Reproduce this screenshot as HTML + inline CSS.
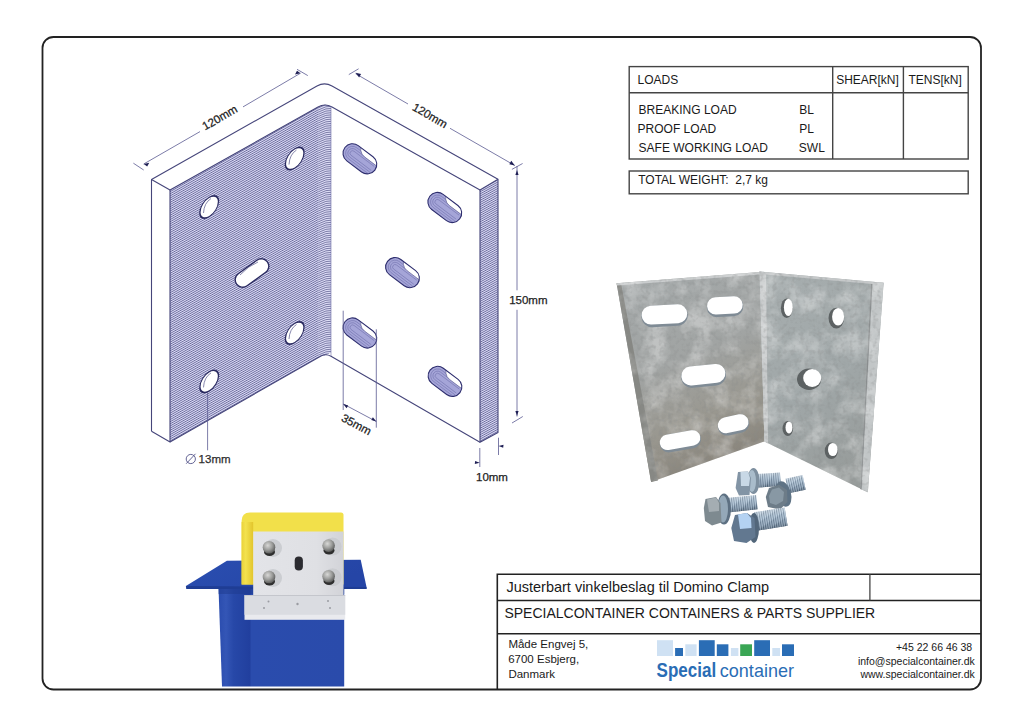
<!DOCTYPE html>
<html><head><meta charset="utf-8"><title>Justerbart vinkelbeslag</title>
<style>
html,body{margin:0;padding:0;background:#fff;width:1024px;height:724px;overflow:hidden;}
svg{display:block;}
text{font-family:"Liberation Sans",sans-serif;}
</style></head>
<body>
<svg width="1024" height="724" viewBox="0 0 1024 724">
<rect width="1024" height="724" fill="#fff"/>

<!-- FRAME -->
<rect x="42.5" y="37" width="938.5" height="652.5" rx="11" ry="11" fill="none" stroke="#222" stroke-width="1.8"/>

<!-- LOADS TABLE -->
<g stroke="#444" stroke-width="1.4" fill="none">
  <rect x="629.2" y="66.6" width="339" height="92.4"/>
  <line x1="629.2" y1="92.8" x2="968.2" y2="92.8"/>
  <line x1="832.7" y1="66.6" x2="832.7" y2="159"/>
  <line x1="903.4" y1="66.6" x2="903.4" y2="159"/>
  <rect x="629.2" y="171" width="339" height="22.8"/>
</g>
<g font-size="12" fill="#1a1a1a">
  <text x="637.6" y="83.8">LOADS</text>
  <text x="836.2" y="84">SHEAR[kN]</text>
  <text x="908.5" y="84">TENS[kN]</text>
  <text x="638.6" y="113.9">BREAKING LOAD</text>
  <text x="637.6" y="132.6">PROOF LOAD</text>
  <text x="638.6" y="152.4">SAFE WORKING LOAD</text>
  <text x="799.3" y="114">BL</text>
  <text x="799.3" y="132.7">PL</text>
  <text x="798.8" y="152.3">SWL</text>
  <text x="638.2" y="184.3" xml:space="preserve">TOTAL WEIGHT:  2,7 kg</text>
</g>

<!-- TITLE BLOCK -->
<g stroke="#222" stroke-width="1.6" fill="none">
  <path d="M497.3 689.5 V574.2 H981"/>
  <line x1="497.3" y1="600.5" x2="981" y2="600.5"/>
  <line x1="497.3" y1="633.8" x2="981" y2="633.8"/>
  <line x1="869.9" y1="574.2" x2="869.9" y2="600.5" stroke="#444" stroke-width="1.3"/>
</g>
<g fill="#1a1a1a">
  <text x="506.4" y="591.8" font-size="14.5">Justerbart vinkelbeslag til Domino Clamp</text>
  <text x="504.4" y="617.7" font-size="14">SPECIALCONTAINER CONTAINERS &amp; PARTS SUPPLIER</text>
  <g font-size="11.5">
    <text x="508.4" y="647.5">Måde Engvej 5,</text>
    <text x="508.2" y="662.8">6700 Esbjerg,</text>
    <text x="508.4" y="678.4">Danmark</text>
  </g>
  <g font-size="10.5" text-anchor="end">
    <text x="972.2" y="650.5">+45 22 66 46 38</text>
    <text x="974.8" y="665">info@specialcontainer.dk</text>
    <text x="974.8" y="678.3">www.specialcontainer.dk</text>
  </g>
</g>
<!-- LOGO -->
<g>
  <rect x="657" y="640.2" width="16" height="15.8" fill="#cfe1f3"/>
  <rect x="675.1" y="648" width="7.9" height="8" fill="#2a6db5"/>
  <rect x="685.3" y="644.3" width="11.3" height="11.7" fill="#cfe1f3"/>
  <rect x="698.9" y="640.2" width="15.8" height="15.8" fill="#2a6db5"/>
  <rect x="716.8" y="644.3" width="11.6" height="11.7" fill="#2a6db5"/>
  <rect x="730.9" y="648" width="7.5" height="8" fill="#cfe1f3"/>
  <rect x="740.2" y="644.3" width="11.8" height="11.7" fill="#3aa655"/>
  <rect x="754.2" y="640.2" width="15.8" height="15.8" fill="#2a6db5"/>
  <rect x="772.3" y="648" width="7.7" height="8" fill="#cfe1f3"/>
  <rect x="782" y="644.3" width="12" height="11.7" fill="#2a6db5"/>
  <text x="656.6" y="676.6" font-size="20" font-weight="bold" fill="#2a6db5" textLength="59.6" lengthAdjust="spacingAndGlyphs">Special</text>
  <text x="719.8" y="676.6" font-size="19" fill="#2a6db5" textLength="74.2" lengthAdjust="spacingAndGlyphs">container</text>
</g>

<!-- TECH DRAWING -->
<g id="drawing">
  <!-- top surface white -->
  <path d="M151.5 179.5 L317 86 Q324.5 81.8 332 86 L498 179.3 L480 190 L332 107 Q325 103 318 107 L170 190 Z" fill="#fff"/>
  <!-- left hatched face -->
  
  <clipPath id="faceL"><path d="M170 190 L318 107 Q325 103 331 106.4 L331 352 Q327 355.5 321 356 L170 442 Z"/></clipPath>
  <clipPath id="faceS"><path d="M480 190 L498 179.3 L498 432.4 L480 442.3 Z"/></clipPath>
  <linearGradient id="hgL" gradientUnits="userSpaceOnUse" x1="0" y1="0" x2="0.9225" y2="1.6270" spreadMethod="repeat">
    <stop offset="0" stop-color="#6a6a98"/><stop offset="0.22" stop-color="#a4a4cc"/><stop offset="0.5" stop-color="#dedef6"/><stop offset="0.78" stop-color="#a4a4cc"/><stop offset="1" stop-color="#6a6a98"/>
  </linearGradient>
  <linearGradient id="hgS" gradientUnits="userSpaceOnUse" x1="0" y1="0" x2="0.9079" y2="1.6507" spreadMethod="repeat">
    <stop offset="0" stop-color="#6a6a98"/><stop offset="0.22" stop-color="#a4a4cc"/><stop offset="0.5" stop-color="#dedef6"/><stop offset="0.78" stop-color="#a4a4cc"/><stop offset="1" stop-color="#6a6a98"/>
  </linearGradient>
  <clipPath id="bendClip"><rect x="318.5" y="90" width="14" height="280"/></clipPath>
  <path d="M170 190 L318 107 Q325 103 331 106.4 L331 352 Q327 355.5 321 356 L170 442 Z" fill="url(#hgL)"/>
  <path d="M480 190 L498 179.3 L498 432.4 L480 442.3 Z" fill="url(#hgS)"/>
  <g clip-path="url(#faceL)"><g clip-path="url(#bendClip)"><rect x="318" y="95" width="15" height="270" fill="#dcdcf5"/><path d="M314.0 106.20L320.0 102.80Q326.0 99.40 331.5 99.80M314.0 108.35L320.0 104.95Q326.0 101.55 331.5 101.95M314.0 110.50L320.0 107.10Q326.0 103.70 331.5 104.10M314.0 112.65L320.0 109.25Q326.0 105.85 331.5 106.25M314.0 114.80L320.0 111.40Q326.0 108.00 331.5 108.40M314.0 116.95L320.0 113.55Q326.0 110.15 331.5 110.55M314.0 119.10L320.0 115.70Q326.0 112.30 331.5 112.70M314.0 121.25L320.0 117.85Q326.0 114.45 331.5 114.85M314.0 123.40L320.0 120.00Q326.0 116.60 331.5 117.00M314.0 125.55L320.0 122.15Q326.0 118.75 331.5 119.15M314.0 127.70L320.0 124.30Q326.0 120.90 331.5 121.30M314.0 129.85L320.0 126.45Q326.0 123.05 331.5 123.45M314.0 132.00L320.0 128.60Q326.0 125.20 331.5 125.60M314.0 134.15L320.0 130.75Q326.0 127.35 331.5 127.75M314.0 136.30L320.0 132.90Q326.0 129.50 331.5 129.90M314.0 138.45L320.0 135.05Q326.0 131.65 331.5 132.05M314.0 140.60L320.0 137.20Q326.0 133.80 331.5 134.20M314.0 142.75L320.0 139.35Q326.0 135.95 331.5 136.35M314.0 144.90L320.0 141.50Q326.0 138.10 331.5 138.50M314.0 147.05L320.0 143.65Q326.0 140.25 331.5 140.65M314.0 149.20L320.0 145.80Q326.0 142.40 331.5 142.80M314.0 151.35L320.0 147.95Q326.0 144.55 331.5 144.95M314.0 153.50L320.0 150.10Q326.0 146.70 331.5 147.10M314.0 155.65L320.0 152.25Q326.0 148.85 331.5 149.25M314.0 157.80L320.0 154.40Q326.0 151.00 331.5 151.40M314.0 159.95L320.0 156.55Q326.0 153.15 331.5 153.55M314.0 162.10L320.0 158.70Q326.0 155.30 331.5 155.70M314.0 164.25L320.0 160.85Q326.0 157.45 331.5 157.85M314.0 166.40L320.0 163.00Q326.0 159.60 331.5 160.00M314.0 168.55L320.0 165.15Q326.0 161.75 331.5 162.15M314.0 170.70L320.0 167.30Q326.0 163.90 331.5 164.30M314.0 172.85L320.0 169.45Q326.0 166.05 331.5 166.45M314.0 175.00L320.0 171.60Q326.0 168.20 331.5 168.60M314.0 177.15L320.0 173.75Q326.0 170.35 331.5 170.75M314.0 179.30L320.0 175.90Q326.0 172.50 331.5 172.90M314.0 181.45L320.0 178.05Q326.0 174.65 331.5 175.05M314.0 183.60L320.0 180.20Q326.0 176.80 331.5 177.20M314.0 185.75L320.0 182.35Q326.0 178.95 331.5 179.35M314.0 187.90L320.0 184.50Q326.0 181.10 331.5 181.50M314.0 190.05L320.0 186.65Q326.0 183.25 331.5 183.65M314.0 192.20L320.0 188.80Q326.0 185.40 331.5 185.80M314.0 194.35L320.0 190.95Q326.0 187.55 331.5 187.95M314.0 196.50L320.0 193.10Q326.0 189.70 331.5 190.10M314.0 198.65L320.0 195.25Q326.0 191.85 331.5 192.25M314.0 200.80L320.0 197.40Q326.0 194.00 331.5 194.40M314.0 202.95L320.0 199.55Q326.0 196.15 331.5 196.55M314.0 205.10L320.0 201.70Q326.0 198.30 331.5 198.70M314.0 207.25L320.0 203.85Q326.0 200.45 331.5 200.85M314.0 209.40L320.0 206.00Q326.0 202.60 331.5 203.00M314.0 211.55L320.0 208.15Q326.0 204.75 331.5 205.15M314.0 213.70L320.0 210.30Q326.0 206.90 331.5 207.30M314.0 215.85L320.0 212.45Q326.0 209.05 331.5 209.45M314.0 218.00L320.0 214.60Q326.0 211.20 331.5 211.60M314.0 220.15L320.0 216.75Q326.0 213.35 331.5 213.75M314.0 222.30L320.0 218.90Q326.0 215.50 331.5 215.90M314.0 224.45L320.0 221.05Q326.0 217.65 331.5 218.05M314.0 226.60L320.0 223.20Q326.0 219.80 331.5 220.20M314.0 228.75L320.0 225.35Q326.0 221.95 331.5 222.35M314.0 230.90L320.0 227.50Q326.0 224.10 331.5 224.50M314.0 233.05L320.0 229.65Q326.0 226.25 331.5 226.65M314.0 235.20L320.0 231.80Q326.0 228.40 331.5 228.80M314.0 237.35L320.0 233.95Q326.0 230.55 331.5 230.95M314.0 239.50L320.0 236.10Q326.0 232.70 331.5 233.10M314.0 241.65L320.0 238.25Q326.0 234.85 331.5 235.25M314.0 243.80L320.0 240.40Q326.0 237.00 331.5 237.40M314.0 245.95L320.0 242.55Q326.0 239.15 331.5 239.55M314.0 248.10L320.0 244.70Q326.0 241.30 331.5 241.70M314.0 250.25L320.0 246.85Q326.0 243.45 331.5 243.85M314.0 252.40L320.0 249.00Q326.0 245.60 331.5 246.00M314.0 254.55L320.0 251.15Q326.0 247.75 331.5 248.15M314.0 256.70L320.0 253.30Q326.0 249.90 331.5 250.30M314.0 258.85L320.0 255.45Q326.0 252.05 331.5 252.45M314.0 261.00L320.0 257.60Q326.0 254.20 331.5 254.60M314.0 263.15L320.0 259.75Q326.0 256.35 331.5 256.75M314.0 265.30L320.0 261.90Q326.0 258.50 331.5 258.90M314.0 267.45L320.0 264.05Q326.0 260.65 331.5 261.05M314.0 269.60L320.0 266.20Q326.0 262.80 331.5 263.20M314.0 271.75L320.0 268.35Q326.0 264.95 331.5 265.35M314.0 273.90L320.0 270.50Q326.0 267.10 331.5 267.50M314.0 276.05L320.0 272.65Q326.0 269.25 331.5 269.65M314.0 278.20L320.0 274.80Q326.0 271.40 331.5 271.80M314.0 280.35L320.0 276.95Q326.0 273.55 331.5 273.95M314.0 282.50L320.0 279.10Q326.0 275.70 331.5 276.10M314.0 284.65L320.0 281.25Q326.0 277.85 331.5 278.25M314.0 286.80L320.0 283.40Q326.0 280.00 331.5 280.40M314.0 288.95L320.0 285.55Q326.0 282.15 331.5 282.55M314.0 291.10L320.0 287.70Q326.0 284.30 331.5 284.70M314.0 293.25L320.0 289.85Q326.0 286.45 331.5 286.85M314.0 295.40L320.0 292.00Q326.0 288.60 331.5 289.00M314.0 297.55L320.0 294.15Q326.0 290.75 331.5 291.15M314.0 299.70L320.0 296.30Q326.0 292.90 331.5 293.30M314.0 301.85L320.0 298.45Q326.0 295.05 331.5 295.45M314.0 304.00L320.0 300.60Q326.0 297.20 331.5 297.60M314.0 306.15L320.0 302.75Q326.0 299.35 331.5 299.75M314.0 308.30L320.0 304.90Q326.0 301.50 331.5 301.90M314.0 310.45L320.0 307.05Q326.0 303.65 331.5 304.05M314.0 312.60L320.0 309.20Q326.0 305.80 331.5 306.20M314.0 314.75L320.0 311.35Q326.0 307.95 331.5 308.35M314.0 316.90L320.0 313.50Q326.0 310.10 331.5 310.50M314.0 319.05L320.0 315.65Q326.0 312.25 331.5 312.65M314.0 321.20L320.0 317.80Q326.0 314.40 331.5 314.80M314.0 323.35L320.0 319.95Q326.0 316.55 331.5 316.95M314.0 325.50L320.0 322.10Q326.0 318.70 331.5 319.10M314.0 327.65L320.0 324.25Q326.0 320.85 331.5 321.25M314.0 329.80L320.0 326.40Q326.0 323.00 331.5 323.40M314.0 331.95L320.0 328.55Q326.0 325.15 331.5 325.55M314.0 334.10L320.0 330.70Q326.0 327.30 331.5 327.70M314.0 336.25L320.0 332.85Q326.0 329.45 331.5 329.85M314.0 338.40L320.0 335.00Q326.0 331.60 331.5 332.00M314.0 340.55L320.0 337.15Q326.0 333.75 331.5 334.15M314.0 342.70L320.0 339.30Q326.0 335.90 331.5 336.30M314.0 344.85L320.0 341.45Q326.0 338.05 331.5 338.45M314.0 347.00L320.0 343.60Q326.0 340.20 331.5 340.60M314.0 349.15L320.0 345.75Q326.0 342.35 331.5 342.75M314.0 351.30L320.0 347.90Q326.0 344.50 331.5 344.90M314.0 353.45L320.0 350.05Q326.0 346.65 331.5 347.05M314.0 355.60L320.0 352.20Q326.0 348.80 331.5 349.20M314.0 357.75L320.0 354.35Q326.0 350.95 331.5 351.35M314.0 359.90L320.0 356.50Q326.0 353.10 331.5 353.50M314.0 362.05L320.0 358.65Q326.0 355.25 331.5 355.65M314.0 364.20L320.0 360.80Q326.0 357.40 331.5 357.80M314.0 366.35L320.0 362.95Q326.0 359.55 331.5 359.95" fill="none" stroke="#6a6a98" stroke-width="0.85"/></g></g>
  <!-- outlines -->
  <g fill="none" stroke="#45457a" stroke-width="1.1" stroke-linejoin="round">
    <path d="M151.5 431.3 L151.5 179.5 L317 86 Q324.5 81.8 332 86 L498 179.3 L498 432.4 L480 442.3 L480 190"/>
    <path d="M151.5 179.5 L170 190 L318 107 Q325 103 332 107 L480 190 L498 179.3"/>
    <path d="M151.5 431.3 L170 442 L170 190"/>
    <path d="M170 442 L321 356 Q326 353.5 331 356.3 L480 442.3"/>
    <path d="M331 106.4 L331 356" stroke="#7070a8" stroke-width="0.6"/>
  </g>

  <!-- holes on left face (white) -->
  <g fill="#fff" stroke="#2a2a60" stroke-width="1.35">
    <ellipse cx="0" cy="0" rx="9.3" ry="9.6" transform="matrix(1,-0.6,0,1,209.2,207)"/>
    <ellipse cx="0" cy="0" rx="9.3" ry="9.6" transform="matrix(1,-0.6,0,1,294.7,158.5)"/>
    <rect x="-19" y="-7.5" width="38" height="15" rx="7.5" ry="7.5" transform="translate(252,273) rotate(-36)"/>
    <ellipse cx="0" cy="0" rx="9.3" ry="9.6" transform="matrix(1,-0.6,0,1,294.7,333)"/>
    <ellipse cx="0" cy="0" rx="9.3" ry="9.6" transform="matrix(1,-0.6,0,1,209.2,381.4)"/>
  </g>
  <g fill="none" stroke="#55558a" stroke-width="0.7">
    <path d="M203.5 213 Q204 203 211 198.5"/>
    <path d="M289 164.5 Q289.5 154.5 296.5 150"/>
    <path d="M289 339 Q289.5 329 296.5 324.5"/>
    <path d="M203.5 387.4 Q204 377.4 211 372.9"/>
    <path d="M240 275 Q248 266 258 262"/>
  </g>
  <!-- slots on white face (hatched inside) -->
  <defs>
    <clipPath id="capR"><rect x="-18.75" y="-9.5" width="37.5" height="19" rx="9.5" ry="9.5"/></clipPath>
  </defs>
  <g transform="translate(359.9,158.8) rotate(37)">
    <rect x="-18.75" y="-9.5" width="37.5" height="19" rx="9.5" ry="9.5" fill="#a5a5d8"/>
    <path d="M16 6.9 L-9.25 6.9 A6.9 6.9 0 0 1 -9.25 -6.9 L16 -6.9 M16 4.7 L-9.25 4.7 A4.7 4.7 0 0 1 -9.25 -4.7 L16 -4.7 M16 2.5 L-9.25 2.5 A2.5 2.5 0 0 1 -9.25 -2.5 L16 -2.5" fill="none" stroke="#7474b0" stroke-width="0.6" clip-path="url(#capR)"/>
    <g clip-path="url(#capR)"><rect x="-7" y="-23.3" width="37.5" height="19" rx="9.5" ry="9.5" fill="#fff" stroke="#5a5a90" stroke-width="0.6"/></g>
    <rect x="-18.75" y="-9.5" width="37.5" height="19" rx="9.5" ry="9.5" fill="none" stroke="#2e2e6e" stroke-width="1.1"/>
  </g>
  <g transform="translate(444.8,207.5) rotate(37)">
    <rect x="-18.75" y="-9.5" width="37.5" height="19" rx="9.5" ry="9.5" fill="#a5a5d8"/>
    <path d="M16 6.9 L-9.25 6.9 A6.9 6.9 0 0 1 -9.25 -6.9 L16 -6.9 M16 4.7 L-9.25 4.7 A4.7 4.7 0 0 1 -9.25 -4.7 L16 -4.7 M16 2.5 L-9.25 2.5 A2.5 2.5 0 0 1 -9.25 -2.5 L16 -2.5" fill="none" stroke="#7474b0" stroke-width="0.6" clip-path="url(#capR)"/>
    <g clip-path="url(#capR)"><rect x="-7" y="-23.3" width="37.5" height="19" rx="9.5" ry="9.5" fill="#fff" stroke="#5a5a90" stroke-width="0.6"/></g>
    <rect x="-18.75" y="-9.5" width="37.5" height="19" rx="9.5" ry="9.5" fill="none" stroke="#2e2e6e" stroke-width="1.1"/>
  </g>
  <g transform="translate(402.5,272.6) rotate(37)">
    <rect x="-18.75" y="-9.5" width="37.5" height="19" rx="9.5" ry="9.5" fill="#a5a5d8"/>
    <path d="M16 6.9 L-9.25 6.9 A6.9 6.9 0 0 1 -9.25 -6.9 L16 -6.9 M16 4.7 L-9.25 4.7 A4.7 4.7 0 0 1 -9.25 -4.7 L16 -4.7 M16 2.5 L-9.25 2.5 A2.5 2.5 0 0 1 -9.25 -2.5 L16 -2.5" fill="none" stroke="#7474b0" stroke-width="0.6" clip-path="url(#capR)"/>
    <g clip-path="url(#capR)"><rect x="-7" y="-23.3" width="37.5" height="19" rx="9.5" ry="9.5" fill="#fff" stroke="#5a5a90" stroke-width="0.6"/></g>
    <rect x="-18.75" y="-9.5" width="37.5" height="19" rx="9.5" ry="9.5" fill="none" stroke="#2e2e6e" stroke-width="1.1"/>
  </g>
  <g transform="translate(359.9,333) rotate(37)">
    <rect x="-18.75" y="-9.5" width="37.5" height="19" rx="9.5" ry="9.5" fill="#a5a5d8"/>
    <path d="M16 6.9 L-9.25 6.9 A6.9 6.9 0 0 1 -9.25 -6.9 L16 -6.9 M16 4.7 L-9.25 4.7 A4.7 4.7 0 0 1 -9.25 -4.7 L16 -4.7 M16 2.5 L-9.25 2.5 A2.5 2.5 0 0 1 -9.25 -2.5 L16 -2.5" fill="none" stroke="#7474b0" stroke-width="0.6" clip-path="url(#capR)"/>
    <g clip-path="url(#capR)"><rect x="-7" y="-23.3" width="37.5" height="19" rx="9.5" ry="9.5" fill="#fff" stroke="#5a5a90" stroke-width="0.6"/></g>
    <rect x="-18.75" y="-9.5" width="37.5" height="19" rx="9.5" ry="9.5" fill="none" stroke="#2e2e6e" stroke-width="1.1"/>
  </g>
  <g transform="translate(445,381.4) rotate(37)">
    <rect x="-18.75" y="-9.5" width="37.5" height="19" rx="9.5" ry="9.5" fill="#a5a5d8"/>
    <path d="M16 6.9 L-9.25 6.9 A6.9 6.9 0 0 1 -9.25 -6.9 L16 -6.9 M16 4.7 L-9.25 4.7 A4.7 4.7 0 0 1 -9.25 -4.7 L16 -4.7 M16 2.5 L-9.25 2.5 A2.5 2.5 0 0 1 -9.25 -2.5 L16 -2.5" fill="none" stroke="#7474b0" stroke-width="0.6" clip-path="url(#capR)"/>
    <g clip-path="url(#capR)"><rect x="-7" y="-23.3" width="37.5" height="19" rx="9.5" ry="9.5" fill="#fff" stroke="#5a5a90" stroke-width="0.6"/></g>
    <rect x="-18.75" y="-9.5" width="37.5" height="19" rx="9.5" ry="9.5" fill="none" stroke="#2e2e6e" stroke-width="1.1"/>
  </g>

  <!-- dimension lines -->
  <g stroke="#5a5a92" stroke-width="0.8" fill="none">
    <path d="M143.7 164 L200 131.6 M243 106.9 L300.5 73.2"/>
    <path d="M133.4 163.2 L143.7 170 M297 69.3 L307.8 75.6"/>
    <path d="M355.6 73.7 L408 104 M450 128.3 L514.8 165.5"/>
    <path d="M348.8 74.6 L358.6 68.8 M511.9 169.4 L522.6 163.5"/>
    <path d="M517 166 L517 290.3 M517 309.8 L517 416.5"/>
    <path d="M512 423 L522.8 416.5"/>
    <path d="M343.2 310.7 L343.2 410 M376.3 329.3 L376.3 427.7 M343.2 403.9 L376.3 421.5"/>
    <path d="M207.6 392.4 L207.6 450.3"/>
    <path d="M479.8 448 L479.8 467 M498.5 437.7 L498.5 455"/>
  </g>
  <g fill="#1f1f55">
    <path d="M143.7 164 l5.5 -1.2 l-2 3.6 z"/>
    <path d="M300.5 73.2 l-5.5 1.2 l2 -3.6 z"/>
    <path d="M355.6 73.7 l5.5 1.2 l-2 3.6 z" transform="translate(0,-1)"/>
    <path d="M514.8 165.5 l-5.5 -1.2 l2 -3.6 z"/>
    <path d="M517 170 l-1.6 5 l3.2 0 z"/>
    <path d="M517 416 l-1.6 -5 l3.2 0 z"/>
    <path d="M343.2 403.9 l5 1.5 l-1.6 2.8 z"/>
    <path d="M376.3 421.5 l-5 -1.5 l1.6 -2.8 z"/>
    <path d="M479.8 462.8 l-5 1.2 l0.3 -3 z"/>
    <path d="M498.5 446 l5 -1.2 l-0.3 3 z"/>
  </g>
  <g fill="none" stroke="#55558a" stroke-width="0.9"><circle cx="190.8" cy="459" r="4.6"/><path d="M186.2 463.7 L195.5 453.8"/></g>
  <g font-size="11.5" fill="#222" stroke="#222" stroke-width="0.25">
    <text x="0" y="0" text-anchor="middle" transform="translate(221.7,121) rotate(-30)">120mm</text>
    <text x="0" y="0" text-anchor="middle" transform="translate(428,119) rotate(30)">120mm</text>
    <text x="509.2" y="303.6">150mm</text>
    <text x="0" y="0" text-anchor="middle" transform="translate(354.5,428) rotate(28)">35mm</text>
    <text x="198.6" y="462.6" fill="#333">13mm</text>
    <text x="476" y="481">10mm</text>
  </g>
</g>

<!-- PHOTO: galvanized bracket -->
<defs>
  <linearGradient id="gL" x1="0" y1="0" x2="0.3" y2="1">
    <stop offset="0" stop-color="#a4a9aa"/>
    <stop offset="0.5" stop-color="#a1a4a3"/>
    <stop offset="0.8" stop-color="#99978f"/>
    <stop offset="1" stop-color="#8b877e"/>
  </linearGradient>
  <linearGradient id="gR" x1="0" y1="0" x2="0.4" y2="1">
    <stop offset="0" stop-color="#a7aeaf"/>
    <stop offset="0.6" stop-color="#a0a7a8"/>
    <stop offset="1" stop-color="#989d9c"/>
  </linearGradient>
  <filter id="mottleL" x="0" y="0" width="100%" height="100%">
    <feTurbulence type="fractalNoise" baseFrequency="0.045" numOctaves="4" seed="11"/>
    <feColorMatrix type="matrix" values="0 0 0 0 1  0 0 0 0 1  0 0 0 0 1  2.6 0 0 0 -1.05"/>
  </filter>
  <filter id="mottleD" x="0" y="0" width="100%" height="100%">
    <feTurbulence type="fractalNoise" baseFrequency="0.22" numOctaves="2" seed="5"/>
    <feColorMatrix type="matrix" values="0 0 0 0 0.25  0 0 0 0 0.26  0 0 0 0 0.26  0 3.2 0 0 -1.55"/>
  </filter>
  <clipPath id="clipPlates">
    <polygon points="616.6,283.2 760,272 764.4,441.4 651.1,482"/>
    <polygon points="759.5,271.6 883.6,282.7 867.8,492.3 764.4,441.4"/>
  </clipPath>
</defs>
<g id="photo1">
  <polygon points="616.6,283.2 760,272 764.4,441.4 651.1,482" fill="url(#gL)"/>
  <polygon points="759.5,271.6 883.6,282.7 867.8,492.3 764.4,441.4" fill="url(#gR)"/>
  <!-- thickness strips -->
  <polygon points="871,282 883.6,282.7 867.8,492.3 860.2,489" fill="#c2c6c7"/>
  <polygon points="871,282 872.6,282 861.6,489.6 860.2,489" fill="#8a8e8f"/>
  <polygon points="616.6,283.2 621,283 658,480.5 651.1,482" fill="#878884"/>
  <polygon points="759.5,271.6 766,272 768,443.5 764.4,441.4" fill="#c7cacb"/>
  <polygon points="616.6,283.2 760,272 760,274.5 617,285.6" fill="#c9cccd"/>
  <polygon points="759.5,271.6 883.6,282.7 883.6,285 759.5,274" fill="#c5c8c9"/>
  <g clip-path="url(#clipPlates)">
    <rect x="600" y="260" width="300" height="240" filter="url(#mottleL)" opacity="0.32"/>
    <rect x="600" y="260" width="300" height="240" filter="url(#mottleD)" opacity="0.3"/>
  </g>
  <!-- left plate slots: shadow lip + white -->
  <g transform="translate(664.6,315.8) rotate(-3)">
    <rect x="-23.2" y="-10.8" width="46.4" height="21.5" rx="10.8" fill="#7f8b95"/>
    <rect x="-22.9" y="-10.8" width="45.6" height="18.9" rx="9.4" fill="#fff"/>
  </g>
  <g transform="translate(725.0,306.7) rotate(-3)">
    <rect x="-18.2" y="-10.0" width="36.5" height="20.0" rx="10.0" fill="#7f8b95"/>
    <rect x="-17.9" y="-10.0" width="35.7" height="17.4" rx="8.7" fill="#fff"/>
  </g>
  <g transform="translate(703.6,376.0) rotate(-6)">
    <rect x="-22.5" y="-10.8" width="45.0" height="21.5" rx="10.8" fill="#7f8b95"/>
    <rect x="-22.2" y="-10.8" width="44.2" height="18.9" rx="9.4" fill="#fff"/>
  </g>
  <g transform="translate(680.4,441.4) rotate(-10)">
    <rect x="-20.9" y="-9.0" width="41.7" height="18.0" rx="9.0" fill="#7f8b95"/>
    <rect x="-20.6" y="-9.0" width="40.9" height="15.4" rx="7.7" fill="#fff"/>
  </g>
  <g transform="translate(733.5,424.9) rotate(-12)">
    <rect x="-15.9" y="-9.2" width="31.8" height="18.5" rx="9.2" fill="#7f8b95"/>
    <rect x="-15.6" y="-9.2" width="31.0" height="15.9" rx="8.0" fill="#fff"/>
  </g>
  <!-- right plate holes -->
  <g fill="#5d6263">
    <ellipse cx="786.7" cy="308.3" rx="5.8" ry="9.8"/>
    <ellipse cx="836.3" cy="318.1" rx="7.8" ry="10.3"/>
    <ellipse cx="809.1" cy="379.2" rx="12.1" ry="10.7"/>
    <ellipse cx="787.8" cy="428.5" rx="5.3" ry="7.5"/>
    <ellipse cx="831.3" cy="450.8" rx="6.6" ry="8.3"/>
  </g>
  <g fill="#fff">
    <ellipse cx="788.3" cy="307.3" rx="4.4" ry="8.6"/>
    <ellipse cx="838.1" cy="316.8" rx="6" ry="8.8"/>
    <ellipse cx="812.2" cy="378" rx="9" ry="9"/>
    <ellipse cx="789" cy="427.5" rx="3.5" ry="6"/>
    <ellipse cx="832.8" cy="449.5" rx="4.8" ry="6.6"/>
  </g>
</g>

<!-- PHOTO: bolts -->
<defs>
  <pattern id="thread" patternUnits="userSpaceOnUse" width="2.2" height="20">
    <rect width="2.2" height="20" fill="#c3d4e2"/>
    <rect width="1" height="20" fill="#4f6478"/>
  </pattern>
  <linearGradient id="shank" x1="0" y1="0" x2="0" y2="1">
    <stop offset="0" stop-color="#eef4fa"/>
    <stop offset="0.35" stop-color="#b8cbdd"/>
    <stop offset="0.75" stop-color="#7a8ea4"/>
    <stop offset="1" stop-color="#3c4c5e"/>
  </linearGradient>
</defs>
<g id="bolts">
  <!-- bolt A (top) -->
  <g transform="translate(758,481) rotate(-4)">
    <rect x="0" y="-7" width="22.5" height="13.6" fill="url(#shank)"/>
    <rect x="0" y="-7" width="22.5" height="13.6" fill="url(#thread)" opacity="0.55"/>
  </g>
  <ellipse cx="753.5" cy="481" rx="6" ry="13" fill="#7d8f9f"/>
  <ellipse cx="752" cy="481" rx="4" ry="11" fill="#a9bccb"/>
  <polygon points="738,472 748,471.5 751,478 749.5,495 739,495.5 735.6,488" fill="#8294a5"/>
  <polygon points="740.5,472 748,471.5 750,478 749,486 741,486" fill="#c8d8e6"/>
  <!-- bolt B (right) -->
  <g transform="translate(787,486) rotate(-12)">
    <rect x="0" y="-7.5" width="17.5" height="15" fill="url(#shank)"/>
    <rect x="0" y="-7.5" width="17.5" height="15" fill="url(#thread)" opacity="0.55"/>
  </g>
  <ellipse cx="783.5" cy="494" rx="7.5" ry="13" fill="#5f7385" transform="rotate(-15 783.5 494)"/>
  <polygon points="769,488 779,484.8 787,490 787.5,502 780,509.5 768,507 765.8,497" fill="#6d7c88"/>
  <polygon points="772,489.5 779,487.5 784,492 783,501 776,505 770,503 769,496" fill="#8898a4"/>
  <!-- bolt C (left) -->
  <g transform="translate(729.5,505) rotate(-6)">
    <rect x="0" y="-7.2" width="27.5" height="14.4" fill="url(#shank)"/>
    <rect x="0" y="-7.2" width="27.5" height="14.4" fill="url(#thread)" opacity="0.55"/>
  </g>
  <ellipse cx="724" cy="509" rx="7" ry="15.5" fill="#5d7082"/>
  <ellipse cx="723" cy="509" rx="5" ry="13.5" fill="#94a8b8"/>
  <polygon points="705.5,499 716,497 720.5,503 721.5,522.5 712,525.5 705,521 703.8,508" fill="#7e8a90"/>
  <polygon points="707,499.5 716,497.5 719,503 719,511 709,512" fill="#a4adb2"/>
  <!-- bolt D (front) -->
  <g transform="translate(755.5,521.5) rotate(-9)">
    <rect x="0" y="-9.3" width="31" height="18.6" fill="url(#shank)"/>
    <rect x="0" y="-9.3" width="31" height="18.6" fill="url(#thread)" opacity="0.55"/>
  </g>
  <ellipse cx="754" cy="528" rx="5" ry="15" fill="#52667a"/>
  <polygon points="735,515 747,513 754.5,518 755.5,537 746.5,543 734,541 731.3,528" fill="#627890"/>
  <polygon points="738,514.5 747,513 751,518 751.5,528 740,529" fill="#b4d2f2"/>
</g>

<!-- PHOTO: yellow/blue -->
<defs>
  <linearGradient id="postG" x1="0" y1="0" x2="1" y2="0">
    <stop offset="0" stop-color="#2a4cae"/>
    <stop offset="0.06" stop-color="#3456b6"/>
    <stop offset="0.12" stop-color="#2748a8"/>
    <stop offset="0.25" stop-color="#213f9e"/>
    <stop offset="0.26" stop-color="#2a4cad"/>
    <stop offset="1" stop-color="#2a4bab"/>
  </linearGradient>
  <linearGradient id="flG" x1="0" y1="0" x2="1" y2="0.3">
    <stop offset="0" stop-color="#2a4eb0"/>
    <stop offset="1" stop-color="#2545a6"/>
  </linearGradient>
  <linearGradient id="yelL" x1="0" y1="0" x2="1" y2="0">
    <stop offset="0" stop-color="#ead23a"/>
    <stop offset="0.35" stop-color="#f3e24f"/>
    <stop offset="1" stop-color="#e2c52c"/>
  </linearGradient>
  <linearGradient id="brV" x1="0" y1="0" x2="1" y2="0">
    <stop offset="0" stop-color="#e3e4e8"/>
    <stop offset="0.7" stop-color="#dfe0e4"/>
    <stop offset="1" stop-color="#d2d3d8"/>
  </linearGradient>
  <radialGradient id="boltG" cx="0.4" cy="0.35" r="0.65">
    <stop offset="0" stop-color="#d8d8d6"/>
    <stop offset="0.55" stop-color="#9d9e9c"/>
    <stop offset="1" stop-color="#5e5f5e"/>
  </radialGradient>
</defs>
<g id="photo2">
  <polygon points="218.5,588 344.2,588 344.2,686.4 222,686.4" fill="url(#postG)"/>
  <rect x="218.5" y="588" width="125.7" height="6" fill="#1d3a8e" opacity="0.5"/>
  <polygon points="185.9,586.1 226.9,560.7 360.7,559.8 366.5,587.1 366.5,589 186.5,589" fill="url(#flG)"/>
  <polygon points="185.9,586.1 366.5,587.1 366.5,589 186.5,589" fill="#1f3d94"/>
  <path d="M241.6 584.5 V521 Q241.6 512.5 250 512.5 H341 Q343.5 512.5 343.5 515 V584.5 Z" fill="#f2e04a"/>
  <rect x="241.6" y="522" width="11.6" height="62.5" fill="url(#yelL)"/>
  
  <rect x="253.2" y="531.5" width="90.3" height="63.8" fill="url(#brV)"/>
  <rect x="244.5" y="595.3" width="100.7" height="24.5" fill="#e9eaee"/>
  <rect x="244.5" y="595.3" width="100.7" height="19.5" fill="#dadce1"/>
  <line x1="244.5" y1="595.5" x2="345.2" y2="595.5" stroke="#c4c6cc" stroke-width="1"/>
  <g fill="#c9cbcf" opacity="0.9">
    <circle cx="273" cy="548" r="9"/>
    <circle cx="332.6" cy="546.6" r="9"/>
    <circle cx="273" cy="578" r="9"/>
    <circle cx="332.6" cy="577.3" r="9"/>
  </g>
  <g fill="#2e2e2e">
    <ellipse cx="269.5" cy="552" rx="5.5" ry="4"/>
    <ellipse cx="329" cy="550.5" rx="5.5" ry="4"/>
    <ellipse cx="269.5" cy="581.5" rx="5.5" ry="4"/>
    <ellipse cx="329" cy="581" rx="5.5" ry="4"/>
  </g>
  <g fill="url(#boltG)">
    <circle cx="269" cy="547.3" r="6.3"/>
    <circle cx="328.6" cy="545.6" r="6.3"/>
    <circle cx="269" cy="577" r="6.3"/>
    <circle cx="328.6" cy="576.3" r="6.3"/>
  </g>
  <rect x="294.7" y="556.4" width="8.2" height="14.1" rx="4" fill="#2b2b30"/>
  <g fill="#9a9ca2">
    <circle cx="268.5" cy="601.5" r="1"/><circle cx="297.5" cy="604" r="1.2"/><circle cx="328" cy="601" r="1"/>
    <circle cx="264" cy="608" r="1"/><circle cx="330" cy="608" r="1"/>
  </g>
</g>

</svg>
</body></html>
